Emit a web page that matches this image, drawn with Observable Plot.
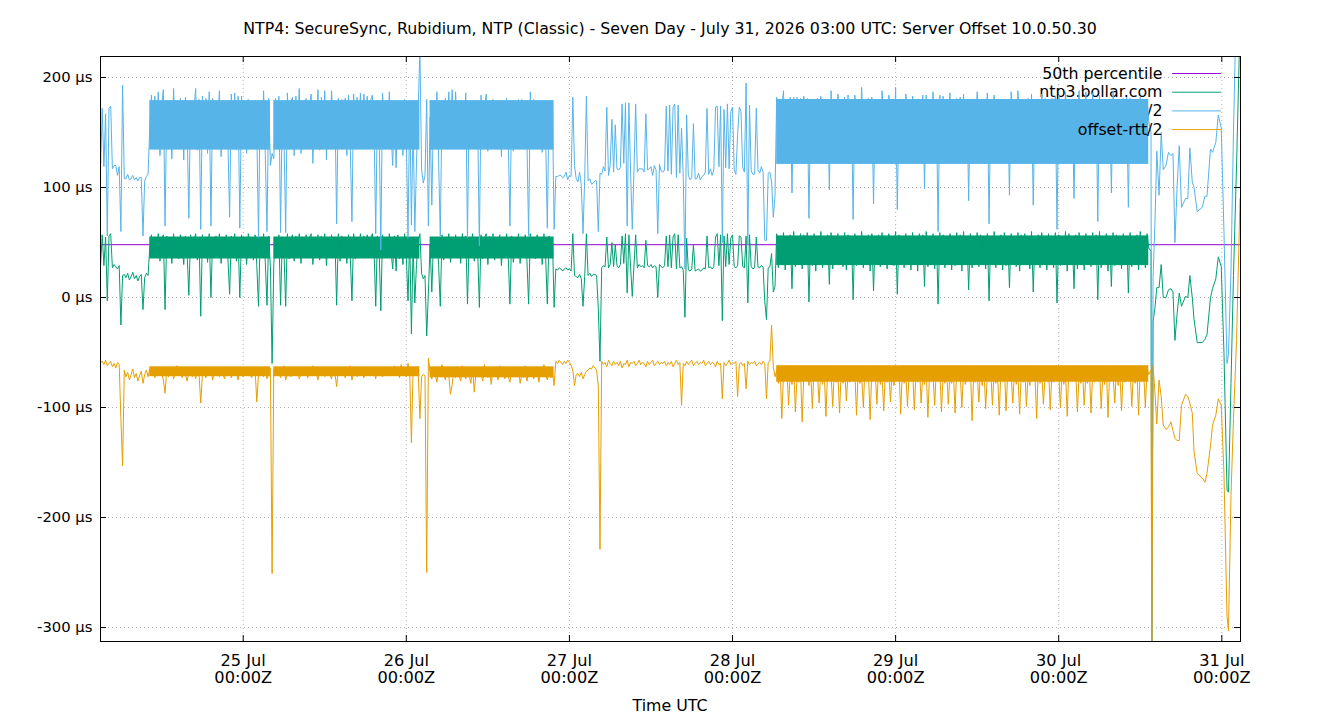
<!DOCTYPE html>
<html><head><meta charset="utf-8">
<script src="https://cdn.jsdelivr.net/npm/d3@7"></script>
<script src="https://cdn.jsdelivr.net/npm/@observablehq/plot@0.6"></script>
<style>
body{margin:0;background:#fff;font-family:"DejaVu Sans",sans-serif;color:#000;}
#wrap{position:relative;width:1340px;height:720px;overflow:hidden;}
#title{position:absolute;top:19px;left:0;width:1340px;text-align:center;font-size:15.8px;line-height:20px;}
#chart{position:absolute;top:48px;left:0;}
#xlabel{position:absolute;top:696px;left:0;width:1340px;text-align:center;font-size:15.8px;line-height:20px;}
</style></head>
<body><div id="wrap"><div id="title"></div><div id="chart"></div><div id="xlabel"></div></div>
<script>
const titleText = "NTP4: SecureSync, Rubidium, NTP (Classic) - Seven Day - July 31, 2026 03:00 UTC: Server Offset 10.0.50.30";
const xLabelText = "Time UTC";
const seriesNames = ["50th percentile", "ntp3.bollar.com", "offset+rtt/2", "offset-rtt/2"];
const seriesColors = ["#9400d3", "#009e73", "#56b4e9", "#e69f00"];
const yTicks = [-300, -200, -100, 0, 100, 200];
const dayTicks = ["2026-07-25", "2026-07-26", "2026-07-27", "2026-07-28", "2026-07-29", "2026-07-30", "2026-07-31"];
const percentile50 = 48;
const seriesStart = "2026-07-24T03:00Z";
const stepMinutes = 15;

// offset (µs) and offset-rtt/2 (µs), 15-minute samples
const offset1 = [28,57,29,55,-3,56,58,27,30,28,26,29,-25,20,21,18,22,16,19,23,17,20,15,19,21,-11,18,22,20];
const lower1 = [-59,-58,-61,-57,-62,-60,-58,-63,-60,-64,-59,-61,-110,-153,-66,-72,-68,-75,-70,-65,-73,-69,-76,-71,-67,-78,-70,-66,-72];

const offset2 = [45,57,36,55,40,58,33,53,57,-11,56,38,54,31,58,42,55,35,57,48,30,56,39,2,57,36,52,58,34,55,-17,57,41,54,32,58,0,53,37,56,44,58,31,55,39,57,35,3,56,40,58,33,54,0,57,38,55,30,58,43,52,34,57,29,-8,55,36,58,32,-7,56,28,-60];
const lower2 = [-65,-70,-64,-73,-67,-71,-63,-69,-75,-87,-66,-72,-68,-64,-74,-69,-62,-71,-67,-73,-65,-70,-76,-68,-63,-72,-67,-74,-66,-70,-96,-69,-64,-73,-67,-71,-65,-75,-68,-63,-70,-72,-66,-69,-74,-64,-71,-67,-73,-65,-70,-68,-75,-63,-69,-72,-66,-71,-64,-70,-73,-67,-65,-95,-70,-68,-63,-72,-66,-74,-69,-64,-251];

const offset3 = [30,55,38,57,-7,54,41,-8,58,35,53,57,33,56,44,58,31,54,40,57,36,55,58,30,52,39,57,34,56,42,58,29,55,37,57,45,53,-7,58,33,56,40,54,31,57,38,-3,58,35,55,45,58,42,56,48,57,41,54,58,44,-8,56,43,-12,57,46,55,39,58,42,26,56,24,57,35,54,30,58,37,-3,55,-33,48,-5,30,52,58];
const lower3 = [-66,-71,-64,-69,-73,-67,-62,-75,-70,-65,-72,-68,-63,-71,-66,-74,-69,-64,-70,-67,-73,-65,-69,-62,-71,-68,-75,-66,-70,-64,-72,-67,-63,-70,-74,-66,-69,-81,-65,-71,-68,-64,-73,-67,-70,-62,-75,-69,-66,-72,-64,-70,-67,-73,-65,-69,-63,-71,-68,-66,-74,-63,-70,-67,-72,-65,-69,-64,-71,-66,-68,-62,-70,-65,-73,-61,-69,-64,-72,-60,-67,-132,-65,-70,-63,-68,-110];

const offset4 = [22,17,20,-35,5,48,5,52,36,55,30,-8,57,34,53,41,58,32,55,38,57,45,54,31,58,36,56,-6,53,40,58,33,55,43,-9,57,35,54,58,30,56,39,58,34,53,47,57,29,55,41,58,36,-6,56,32,54,44,58,31,55,38,57,33,-6,58,40,53,35,57,46,55,30,58,37,-6,56,42,54,-9];
const lower4 = [-72,-70,-71,-250,-55,-68,-74,-63,-70,-77,-66,-72,-61,-69,-75,-65,-71,-88,-79,-67,-73,-64,-70,-76,-62,-69,-74,-66,-71,-78,-63,-86,-68,-72,-65,-70,-76,-61,-69,-73,-66,-79,-64,-71,-68,-75,-62,-70,-67,-74,-65,-72,-77,-63,-69,-71,-66,-64,-78,-70,-73,-62,-76,-68,-71,-65,-74,-69,-63,-77,-67,-72,-61,-70,-75,-66,-73,-68,-80];

const offset5 = [26,25,27,26,24,26,27,25,26,24,58,20,19,18,21,17,-8,19,58,20,22,19,21,21,20,-10,-58];
const lower5 = [-58,-60,-57,-59,-61,-58,-60,-57,-59,-62,-66,-80,-70,-69,-72,-68,-74,-70,-67,-66,-64,-65,-62,-64,-66,-80,-229];

const offset6 = [27,29,28,55,27,30,50,28,48,29,27,30,56,31,58,4,57,28,1,29,57,27,30,28,29,27,52,29,28,30,27,29,28,0,30,28,27,29,56,28,57,27,55,58,26,57,27,28,25,-18,54,25,24,26,48,24,25,26,24,25,27,26,56,27,28,26,28,55,58,29,57,-21,56,28,58,30,54,57,28,27,29,56,55,28,27,56,-5,57,28,26,27,55,28,27,29,28,-4,-20,27,28,40,5,10];
const lower6 = [-58,-61,-59,-63,-57,-60,-62,-58,-61,-59,-62,-58,-64,-60,-61,-57,-63,-59,-60,-58,-62,-60,-57,-61,-59,-60,-63,-58,-61,-59,-57,-62,-60,-58,-61,-59,-60,-58,-62,-59,-61,-58,-63,-60,-57,-61,-59,-98,-60,-62,-58,-61,-59,-57,-62,-60,-58,-61,-59,-60,-57,-62,-60,-58,-61,-59,-60,-63,-58,-61,-60,-92,-59,-62,-60,-57,-61,-59,-60,-58,-90,-61,-59,-62,-60,-83,-58,-61,-59,-60,-58,-62,-60,-59,-61,-58,-60,-92,-59,-58,-25,-63,-72];

const offset7 = [58,27,56,31,59,25,54,33,57,8,60,28,55,35,58,26,57,30,59,-4,
56,29,58,24,55,32,60,27,53,36,57,12,59,26,56,30,58,34,54,28,
59,25,57,31,55,-2,58,29,56,33,60,27,54,35,57,24,58,6,55,30,
57,28,59,32,56,26,58,34,55,29,60,3,57,31,54,27,58,36,56,25,
59,30,55,24,58,33,57,10,60,28,54,35,58,26,56,-6,59,31,57,27];
const lower7 = [-66,-78,-63,-110,-70,-75,-64,-98,-68,-79,-62,-104,-72,-77,-65,-113,-69,-76,-63,-80,
-67,-101,-64,-76,-71,-96,-63,-79,-68,-108,-65,-74,-70,-99,-62,-77,-69,-105,-66,-78,
-64,-94,-70,-77,-63,-75,-68,-107,-65,-78,-71,-100,-62,-76,-67,-111,-66,-73,-69,-97,
-63,-79,-70,-103,-65,-77,-68,-95,-64,-80,-71,-74,-66,-106,-62,-78,-69,-99,-67,-76,
-65,-102,-68,-77,-62,-96,-70,-79,-64,-109,-67,-75,-71,-98,-63,-72,-66,-104,-69,-78];

const offset8 = [56,33,58,25,55,29,59,36,57,24,60,31,54,7,58,27,56,34,59,28,
57,30,55,26,58,-3,56,32,60,27,54,35,57,25,59,29,56,9,58,33,
55,28,59,24,57,34,58,30,56,26,60,5,54,31,57,27,59,36,55,25,
58,32,56,27,59,-5,57,29,55,35,60,24,58,30,54,8,57,26,59,33,
56,25,58,31,55,28,59,34,57,-2,60,27,54,32,58,24,56,10,59,29,
57,33,55,26,58,30,56,4,59,28,54,35,57,25,60,31,56,27,58,45];
const lower8 = [-64,-97,-70,-78,-66,-105,-63,-76,-68,-100,-65,-79,-71,-74,-62,-112,-67,-77,-69,-95,
-66,-80,-63,-101,-70,-73,-67,-98,-64,-78,-69,-107,-65,-76,-62,-103,-68,-75,-71,-96,
-64,-79,-70,-106,-66,-77,-63,-99,-69,-80,-65,-74,-68,-110,-62,-78,-67,-97,-71,-76,
-63,-102,-69,-77,-65,-72,-70,-100,-64,-79,-67,-108,-62,-76,-68,-74,-66,-104,-70,-78,
-65,-98,-71,-78,-63,-105,-68,-77,-66,-73,-64,-101,-69,-79,-62,-109,-67,-75,-70,-96,
-64,-80,-69,-103,-65,-77,-70,-74,-63,-99,-68,-78,-66,-107,-62,-76,-67,-100,-64,-70];

// irregular samples after the disturbance
const tailTimes = ["2026-07-30T13:35Z","2026-07-30T13:42Z","2026-07-30T13:53Z","2026-07-30T14:09Z","2026-07-30T14:26Z","2026-07-30T14:46Z","2026-07-30T15:05Z","2026-07-30T15:23Z","2026-07-30T15:47Z","2026-07-30T16:09Z","2026-07-30T16:31Z","2026-07-30T16:49Z","2026-07-30T17:06Z","2026-07-30T17:26Z","2026-07-30T17:44Z","2026-07-30T18:04Z","2026-07-30T18:40Z","2026-07-30T19:00Z","2026-07-30T19:18Z","2026-07-30T19:39Z","2026-07-30T19:55Z","2026-07-30T20:23Z","2026-07-30T21:07Z","2026-07-30T21:31Z","2026-07-30T21:49Z","2026-07-30T22:20Z","2026-07-30T22:38Z","2026-07-30T23:07Z","2026-07-30T23:29Z","2026-07-30T23:55Z","2026-07-31T00:19Z","2026-07-31T00:46Z","2026-07-31T00:59Z","2026-07-31T01:21Z","2026-07-31T01:43Z","2026-07-31T02:10Z","2026-07-31T02:41Z"];
const tailOffset = [42,-340,-22,-10,9,9,30,0,0,7,8,5,-39,-14,4,-8,1,0,20,0,-20,-41,-41,-38,-34,0,8,17,37,28,-50,-175,-177,-78,20,120,250];
const tailLower = [-66,-350,-62,-85,-115,-75,-90,-116,-120,-118,-113,-121,-128,-130,-130,-98,-88,-90,-96,-105,-140,-160,-164,-168,-160,-135,-116,-107,-92,-98,-160,-290,-303,-180,-110,-39,90];

// busy periods: range that the dense (sub-15-minute) samples fill solidly
const busyStart = ["2026-07-24T10:15Z", "2026-07-25T04:30Z", "2026-07-26T03:30Z", "2026-07-28T06:30Z"];
const busyEnd = ["2026-07-25T04:00Z", "2026-07-26T02:00Z", "2026-07-26T21:45Z", "2026-07-30T13:15Z"];
const busyOffsetLo = [35, 35, 35, 29];
const busyOffsetHi = [55, 55, 55, 56];
const busyUpperLo = [134, 134, 134, 121];
const busyUpperHi = [179, 179, 179, 180];
const busyLowerLo = [-72, -72, -73, -77];
const busyLowerHi = [-63, -63, -63, -62];

const xDomain = [new Date("2026-07-24T03:00Z"), new Date("2026-07-31T02:45Z")];
const yDomain = [-312.7, 219.1];

document.getElementById("title").textContent = titleText;
document.getElementById("xlabel").textContent = xLabelText;

const offsetAll = [].concat(offset1, offset2, offset3, offset4, offset5, offset6, offset7, offset8);
const lowerAll = [].concat(lower1, lower2, lower3, lower4, lower5, lower6, lower7, lower8);
const t0 = new Date(seriesStart).getTime();
const rows = offsetAll.map((v, i) => ({t: new Date(t0 + i * stepMinutes * 60000), offset: v, lower: lowerAll[i]}));
tailTimes.forEach((s, i) => rows.push({t: new Date(s), offset: tailOffset[i], lower: tailLower[i]}));
rows.forEach(r => { const halfRtt = r.offset - r.lower; r.upper = r.offset + halfRtt; });

const busy = busyStart.map((s, i) => ({
  x1: new Date(s), x2: new Date(busyEnd[i]),
  oLo: busyOffsetLo[i], oHi: busyOffsetHi[i],
  uLo: busyUpperLo[i], uHi: busyUpperHi[i],
  lLo: busyLowerLo[i], lHi: busyLowerHi[i]
}));

const dayDates = dayTicks.map(d => new Date(d + "T00:00Z"));
const lineShape = {draw(context, l) { context.moveTo(0, 0); context.lineTo(0, -l); }};
const legendRow = k => [
  Plot.text([seriesNames[k]], {frameAnchor: "top-right", textAnchor: "end", lineAnchor: "middle", dx: -78, dy: 17 + k * 18.7, fill: "black", fontSize: 15.8}),
  Plot.vector([0], {frameAnchor: "top-right", dx: -68, dy: 17 + k * 18.7, rotate: 90, length: 48, anchor: "start", stroke: seriesColors[k], strokeWidth: 1, shape: lineShape})
];

const chart = Plot.plot({
  width: 1340, height: 643,
  marginLeft: 100, marginRight: 100, marginTop: 8, marginBottom: 50,
  style: {fontFamily: "'DejaVu Sans', sans-serif", fontSize: "15.8px", background: "transparent", overflow: "visible"},
  x: {type: "utc", domain: xDomain},
  y: {domain: yDomain},
  marks: [
    Plot.gridY(yTicks, {stroke: "#aaa", strokeOpacity: 0.9, strokeDasharray: "1,3"}),
    Plot.gridX(dayDates, {stroke: "#aaa", strokeOpacity: 0.9, strokeDasharray: "1,3"}),
    ...legendRow(0),
    Plot.ruleY([percentile50], {stroke: seriesColors[0], strokeWidth: 1}),
    ...legendRow(1),
    Plot.rect(busy, {x1: "x1", x2: "x2", y1: "oLo", y2: "oHi", fill: seriesColors[1]}),
    Plot.line(rows, {x: "t", y: "offset", stroke: seriesColors[1], strokeWidth: 1, clip: true}),
    ...legendRow(2),
    Plot.rect(busy, {x1: "x1", x2: "x2", y1: "uLo", y2: "uHi", fill: seriesColors[2]}),
    Plot.line(rows, {x: "t", y: "upper", stroke: seriesColors[2], strokeWidth: 1, clip: true}),
    ...legendRow(3),
    Plot.rect(busy, {x1: "x1", x2: "x2", y1: "lLo", y2: "lHi", fill: seriesColors[3]}),
    Plot.line(rows, {x: "t", y: "lower", stroke: seriesColors[3], strokeWidth: 1, clip: true}),
    Plot.tickY(yTicks, {y: d => d, insetRight: 1134, stroke: "black"}),
    Plot.tickY(yTicks, {y: d => d, insetLeft: 1134, stroke: "black"}),
    Plot.tickX(dayDates, {x: d => d, insetTop: 579, stroke: "black"}),
    Plot.tickX(dayDates, {x: d => d, insetBottom: 579, stroke: "black"}),
    Plot.frame({stroke: "black", strokeWidth: 1}),
    Plot.axisY(yTicks, {tickSize: 0, tickPadding: 8, tickFormat: d => `${d} µs`, label: null, fontSize: 14.8}),
    Plot.axisX(dayDates, {tickSize: 0, tickPadding: 12, tickFormat: d3.utcFormat("%-d %b\n%H:%MZ"), lineHeight: 1.08, label: null, fontSize: 16.2})
  ]
});
document.getElementById("chart").appendChild(chart);
</script></body></html>
